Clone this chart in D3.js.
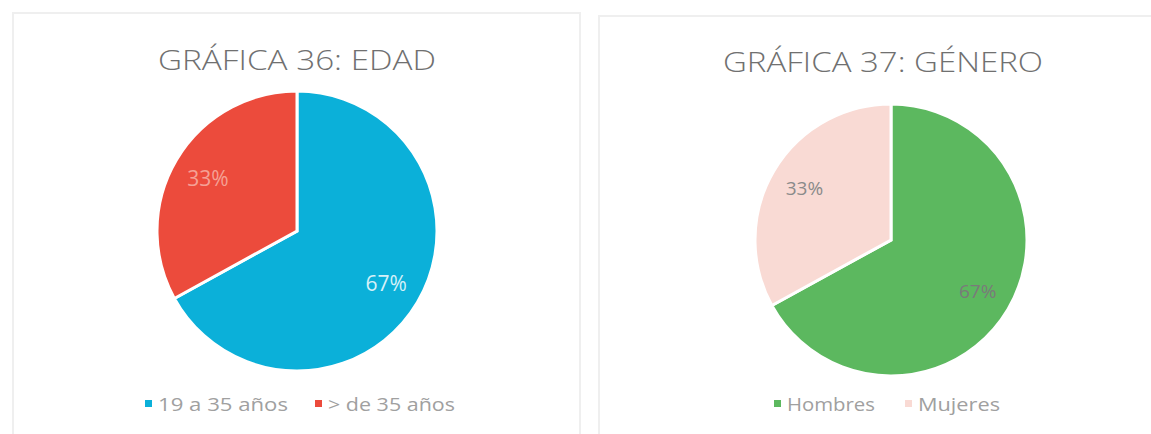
<!DOCTYPE html>
<html>
<head>
<meta charset="utf-8">
<script src="https://cdn.jsdelivr.net/npm/d3@7"></script>
<style>
  html, body { margin: 0; padding: 0; background: #fff; }
  svg { display: block; font-family: 'Open Sans', 'Noto Sans', sans-serif; }
</style>
</head>
<body>
<svg id="chart" width="1151" height="434"></svg>
<script>
(function (d3) {
  'use strict'
  // data
  const edadLabels = ['19 a 35 años', '> de 35 años']
  const edadValues = [67, 33]
  const generoLabels = ['Hombres', 'Mujeres']
  const generoValues = [67, 33]

  const svg = d3.select('#chart')

  // panel frames (light grey like the Excel chart area)
  svg.append('rect').attr('x', 13).attr('y', 13).attr('width', 567).attr('height', 430)
    .attr('fill', 'none').attr('stroke', '#efefef').attr('stroke-width', 2)
  svg.append('rect').attr('x', 599).attr('y', 16).attr('width', 560).attr('height', 430)
    .attr('fill', 'none').attr('stroke', '#efefef').attr('stroke-width', 2)

  function drawPie(opt) {
    const g = svg.append('g')

    g.append('text')
      .attr('x', opt.titleX).attr('y', opt.titleY)
      .attr('text-anchor', 'middle')
      .attr('font-size', 27)
      .attr('font-weight', 300)
      .attr('fill', '#707070')
      .attr('textLength', opt.titleW)
      .attr('lengthAdjust', 'spacingAndGlyphs')
      .text(opt.title)

    const pie = d3.pie().sort(null).value(d => d)
    const arcs = pie(opt.values)
    const arc = d3.arc().innerRadius(0).outerRadius(opt.r)
    const labelArc = d3.arc().innerRadius(opt.r * 0.74).outerRadius(opt.r * 0.74)

    const pg = g.append('g').attr('transform', `translate(${opt.cx},${opt.cy})`)
    pg.selectAll('path')
      .data(arcs)
      .enter()
      .append('path')
      .attr('d', arc)
      .attr('fill', (d, i) => opt.colors[i])
      .attr('stroke', '#fff')
      .attr('stroke-width', 3)
      .attr('stroke-linejoin', 'miter')

    pg.selectAll('text')
      .data(arcs)
      .enter()
      .append('text')
      .attr('transform', d => `translate(${labelArc.centroid(d)})`)
      .attr('text-anchor', 'middle')
      .attr('dy', '0.35em')
      .attr('font-size', opt.labelSize)
      .attr('fill', (d, i) => opt.labelColors[i])
      .text(d => d.data + '%')

    // legend
    const lg = g.append('g')
    opt.labels.forEach((name, i) => {
      const x = opt.legendX[i]
      lg.append('rect')
        .attr('x', x).attr('y', opt.legendY - 4)
        .attr('width', 7).attr('height', 7)
        .attr('fill', opt.colors[i])
      lg.append('text')
        .attr('x', x + 13).attr('y', opt.legendY)
        .attr('dy', '0.35em')
        .attr('font-size', 19)
        .attr('fill', '#a0a0a0')
        .attr('textLength', opt.legendW[i])
        .attr('lengthAdjust', 'spacingAndGlyphs')
        .text(name)
    })
  }

  drawPie({
    title: 'GRÁFICA 36: EDAD',
    titleX: 297, titleY: 70, titleW: 278,
    cx: 297, cy: 231, r: 140,
    values: edadValues,
    labels: edadLabels,
    colors: ['#0bb0d9', '#ec4b3c'],
    labelColors: ['#d6f1f8', '#f5a195'],
    labelSize: 21,
    legendX: [145, 315], legendY: 404, legendW: [130, 127]
  })

  drawPie({
    title: 'GRÁFICA 37: GÉNERO',
    titleX: 883, titleY: 72, titleW: 320,
    cx: 891, cy: 240, r: 136,
    values: generoValues,
    labels: generoLabels,
    colors: ['#5cb85f', '#f9dad4'],
    labelColors: ['#7a7a7a', '#8a8a8a'],
    labelSize: 19,
    legendX: [774, 905], legendY: 404, legendW: [88, 82]
  })
}(d3))
</script>
</body>
</html>
